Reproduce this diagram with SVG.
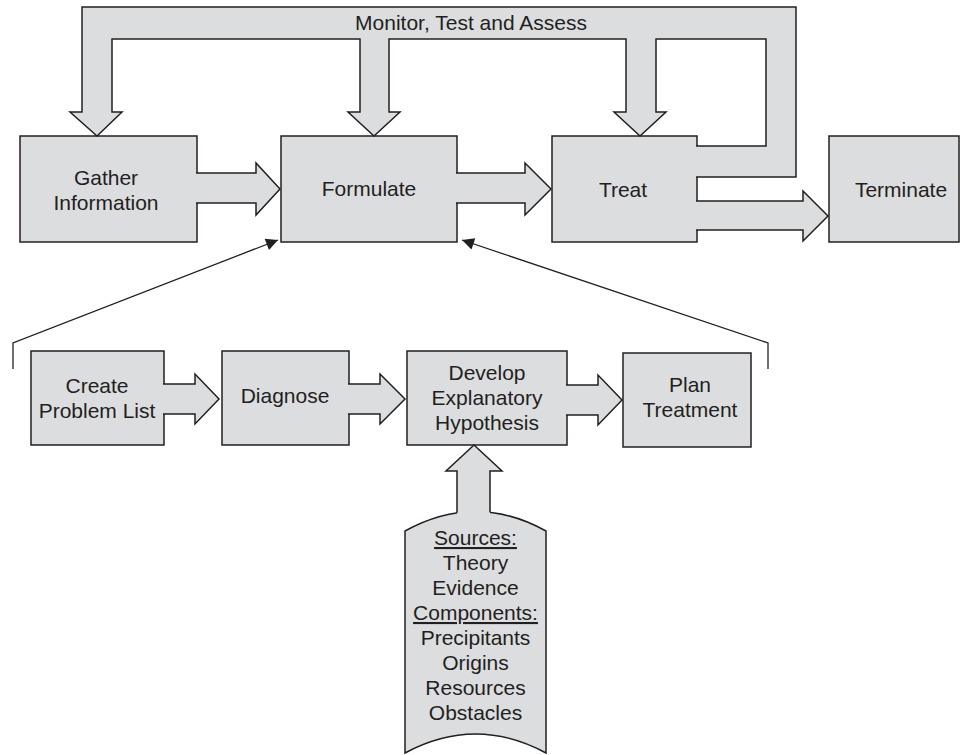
<svg xmlns="http://www.w3.org/2000/svg" width="961" height="755" viewBox="0 0 961 755">
<defs>
<style>
.box{fill:#dcdddf;stroke:#231f20;stroke-width:1.5}
.af{fill:#dcdddf;stroke:#231f20;stroke-width:1.5;stroke-linejoin:miter}
.fo{fill:#dcdddf;stroke:none}
.so{fill:none;stroke:#231f20;stroke-width:1.5}
.ln{fill:none;stroke:#231f20;stroke-width:1.3}
text{font-family:"Liberation Sans",Arial,sans-serif;font-size:21px;fill:#231f20;text-anchor:middle}
</style>
<marker id="ah" viewBox="0 0 10 10" refX="10" refY="5" markerWidth="17" markerHeight="12" markerUnits="userSpaceOnUse" orient="auto">
<path d="M0,0 L10,5 L0,10 z" fill="#231f20"/>
</marker>
</defs>
<rect width="961" height="755" fill="#ffffff"/>

<g id="gather"><rect class="box" x="20" y="136" width="177" height="106"/><text x="106" y="185">Gather</text><text x="106" y="210">Information</text></g>
<g id="formulate"><rect class="box" x="281" y="136" width="176" height="106"/><text x="369" y="196">Formulate</text></g>
<g id="treat"><rect class="box" x="552" y="136" width="145" height="106"/><text x="623" y="197">Treat</text></g>
<g id="terminate"><rect class="box" x="829" y="136" width="130" height="106"/><text x="901" y="197">Terminate</text></g>

<g id="create"><rect class="box" x="31" y="351" width="133" height="94"/><text x="97" y="393">Create</text><text x="97" y="418">Problem List</text></g>
<g id="diagnose"><rect class="box" x="222" y="351" width="127" height="94"/><text x="285" y="403">Diagnose</text></g>
<g id="develop"><rect class="box" x="407" y="351" width="160" height="94"/><text x="487" y="380">Develop</text><text x="487" y="405">Explanatory</text><text x="487" y="430">Hypothesis</text></g>
<g id="plan"><rect class="box" x="623" y="353" width="128" height="94"/><text x="690" y="392">Plan</text><text x="690" y="417">Treatment</text></g>

<g id="connectors">
<path class="af" d="M196,173 H256 V163 L280,189 L256,215 V203 H196"/>
<path class="af" d="M456,173 H525 V163 L551,189 L525,215 V203 H456"/>
<path class="af" d="M696,201 H803 V191 L828,216 L803,241 V230 H696"/>
<path class="af" d="M696,177 H796 V7 H82 V112 H70 L97,136 L122,112 H112 V39 H360 V112 H348 L374,136 L400,112 H389 V39 H626 V112 H614 L640,136 L666,112 H656 V39 H766 V146 H696"/>
<path class="af" d="M163,384 H195 V374 L219,399 L195,424 V414 H163"/>
<path class="af" d="M348,384 H380 V374 L405,399 L380,424 V414 H348"/>
<path class="af" d="M566,385 H598 V375 L622,400 L598,425 V415 H566"/>
<polyline class="ln" points="13,369 13,343 278,240" marker-end="url(#ah)"/>
<polyline class="ln" points="768,369 768,343 462,240" marker-end="url(#ah)"/>
</g>
<text x="471" y="30">Monitor, Test and Assess</text>

<g id="sources">
<path class="box" d="M405,753 V531 Q475.5,492 546,531 V753 Q475.5,715 405,753 Z"/>
<path class="fo" d="M457,518 V471 H446 L474,445 L502,471 H490 V518 Z"/>
<path class="so" d="M457,512.8 V471 H446 L474,445 L502,471 H490 V512.3"/>
<text x="475.5" y="545" text-decoration="underline">Sources:</text>
<text x="475.5" y="570">Theory</text>
<text x="475.5" y="595">Evidence</text>
<text x="475.5" y="620" text-decoration="underline">Components:</text>
<text x="475.5" y="645">Precipitants</text>
<text x="475.5" y="670">Origins</text>
<text x="475.5" y="695">Resources</text>
<text x="475.5" y="720">Obstacles</text>
</g>
</svg>
